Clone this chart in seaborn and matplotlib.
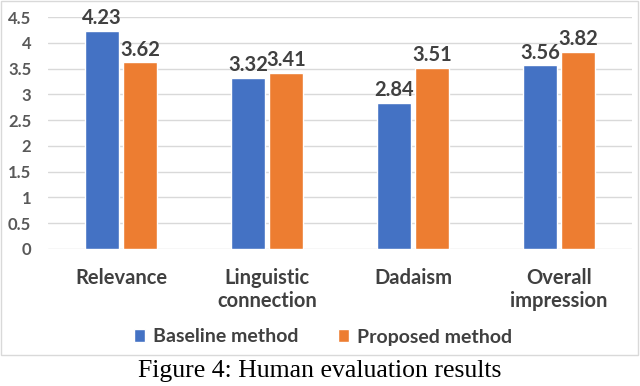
import numpy as np
import pandas as pd
import matplotlib
matplotlib.use("Agg")
import matplotlib.pyplot as plt
import seaborn as sns
from matplotlib.patches import Rectangle, Patch

categories = ["Relevance", "Linguistic\nconnection", "Dadaism", "Overall\nimpression"]
methods = ["Baseline method", "Proposed method"]
baseline = [4.23, 3.32, 2.84, 3.56]
proposed = [3.62, 3.41, 3.51, 3.82]
yticks = [0, 0.5, 1, 1.5, 2, 2.5, 3, 3.5, 4, 4.5]
ytick_labels = ["0", "0.5", "1", "1.5", "2", "2.5", "3", "3.5", "4", "4.5"]

palette = {"Baseline method": "#4472C4", "Proposed method": "#ED7D31"}
text_col = "#404040"

df = pd.DataFrame({
    "category": categories * 2,
    "method": [methods[0]] * 4 + [methods[1]] * 4,
    "score": baseline + proposed,
})

sns.set_style("white")
plt.rcParams["font.family"] = ["Lato", "DejaVu Sans"]

W, H = 640, 386
fig = plt.figure(figsize=(6.4, 3.86), dpi=100)
ax = fig.add_axes([48 / W, 1 - 249 / H, (632 - 48) / W, (249 - 17) / H])

sns.barplot(data=df, x="category", y="score", hue="method", order=categories,
            hue_order=methods, palette=palette, width=0.52, gap=0.1,
            saturation=1, ax=ax, legend=False, zorder=3)

# value labels
for cont in ax.containers:
    ax.bar_label(cont, fmt="%.2f", padding=2, fontsize=14.5, fontweight="bold",
                 color=text_col)

ax.set_ylim(0, 4.5)
ax.set_xlim(-0.5, 3.5)
ax.set_yticks(yticks)
ax.set_yticklabels(ytick_labels)
ax.yaxis.grid(True, color="#D9D9D9", linewidth=1, zorder=0)
ax.tick_params(axis="y", length=0, pad=12, labelsize=12, labelcolor="#595959")
ax.tick_params(axis="x", length=0, pad=14, labelsize=14.5, labelcolor=text_col)
for lab in ax.get_yticklabels() + ax.get_xticklabels():
    lab.set_fontweight("bold")
    lab.set_linespacing(1.15)
ax.set_xlabel("")
ax.set_ylabel("")
for s in ax.spines.values():
    s.set_visible(False)

# chart border
fig.patches.append(Rectangle((1 / W, 1 - 355 / H), (W - 3) / W, 354 / H,
                             transform=fig.transFigure, fill=False,
                             edgecolor="#D9D9D9", linewidth=1))

handles = [Patch(facecolor=palette[m], label=m) for m in methods]
leg = fig.legend(handles=handles, loc="center", bbox_to_anchor=(323 / W, 1 - 337 / H),
                 ncol=2, frameon=False, handlelength=0.6, handleheight=0.6,
                 handletextpad=0.4, columnspacing=2.0,
                 prop={"family": "Lato", "weight": "bold", "size": 14})
for t in leg.get_texts():
    t.set_color(text_col)

fig.text(320 / W, 1 - 371 / H, "Figure 4: Human evaluation results",
         ha="center", va="center", fontsize=18.5, family="Liberation Serif",
         color="black")

fig.savefig("out.png", dpi=100)
